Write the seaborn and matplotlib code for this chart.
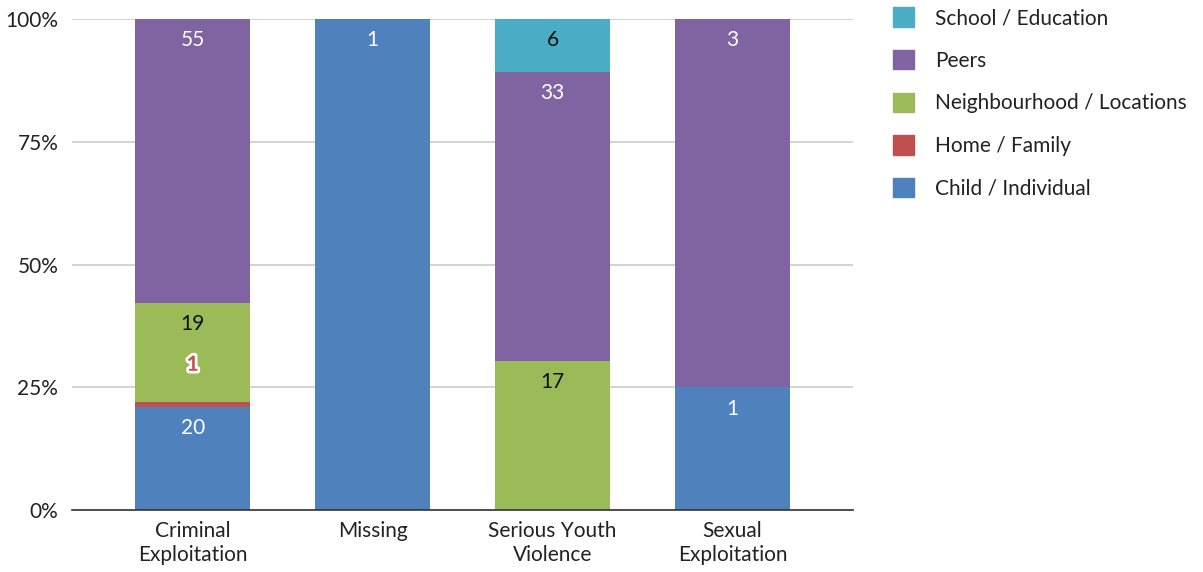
import matplotlib.pyplot as plt
import matplotlib.patheffects as pe
import numpy as np
import pandas as pd
import seaborn as sns

categories = ["Criminal\nExploitation", "Missing", "Serious Youth\nViolence", "Sexual\nExploitation"]
series = ["Child / Individual", "Home / Family", "Neighbourhood / Locations", "Peers", "School / Education"]
child = [20, 1, 0, 1]
home = [1, 0, 0, 0]
neighbourhood = [19, 0, 17, 0]
peers = [55, 0, 33, 3]
school = [0, 0, 6, 0]

colors = ["#4f81bd", "#c0504d", "#9bbb59", "#8064a2", "#4bacc6"]
text_colors = ["white", "#c0504d", "#111111", "white", "#111111"]

sns.set_theme(style="white")
plt.rcParams["font.family"] = ["Lato", "DejaVu Sans"]

counts = pd.DataFrame(
    np.array([child, home, neighbourhood, peers, school]).T, index=categories, columns=series
)
shares = counts.div(counts.sum(axis=1), axis=0) * 100

fig = plt.figure(figsize=(12.03, 5.72), dpi=100)
ax = fig.add_axes([0.06, 0.108, 0.649, 0.859])

bottom = np.zeros(len(categories))
for i, name in enumerate(series):
    vals = shares[name].values
    sns.barplot(x=categories, y=vals, bottom=bottom, color=colors[i], width=0.64,
                ax=ax, label=name, saturation=1, edgecolor="none", legend=False)
    for j, v in enumerate(vals):
        if counts[name].iloc[j] == 0:
            continue
        top = bottom[j] + v
        ypos = top - 4.3
        kw = {}
        if name == "Home / Family":
            # pushed up so it does not collide with the child label
            ypos = top + 7.5
            kw["path_effects"] = [pe.withStroke(linewidth=4, foreground="white")]
            kw["fontweight"] = "bold"
        ax.text(j, ypos, str(counts[name].iloc[j]), ha="center", va="center",
                fontsize=15, color=text_colors[i], **kw)
    bottom = bottom + vals

if ax.get_legend() is not None:
    ax.get_legend().remove()

ax.set_ylim(0, 100)
ax.set_xlim(-0.67, 3.67)
ax.set_yticks([0, 25, 50, 75, 100])
ax.set_yticklabels(["0%", "25%", "50%", "75%", "100%"])
ax.yaxis.grid(True, color="#cccccc", linewidth=1.2)
ax.set_axisbelow(True)
ax.tick_params(axis="both", labelsize=15, colors="#222222", length=0)
ax.tick_params(axis="y", pad=10)
ax.tick_params(axis="x", pad=8)
for lbl in ax.get_xticklabels():
    lbl.set_linespacing(1.25)
for s in ["left", "right", "top"]:
    ax.spines[s].set_visible(False)
ax.spines["bottom"].set_color("#333333")
ax.spines["bottom"].set_linewidth(1.2)

handles = [plt.Rectangle((0, 0), 1, 1, color=c) for c in colors]
fig.legend(handles[::-1], series[::-1], loc="upper left", bbox_to_anchor=(0.727, 1.02),
           frameon=False, fontsize=15, handlelength=1.0, handleheight=1.05,
           labelspacing=1.05, handletextpad=1.0, labelcolor="#222222")

fig.savefig("out.png", dpi=100)
